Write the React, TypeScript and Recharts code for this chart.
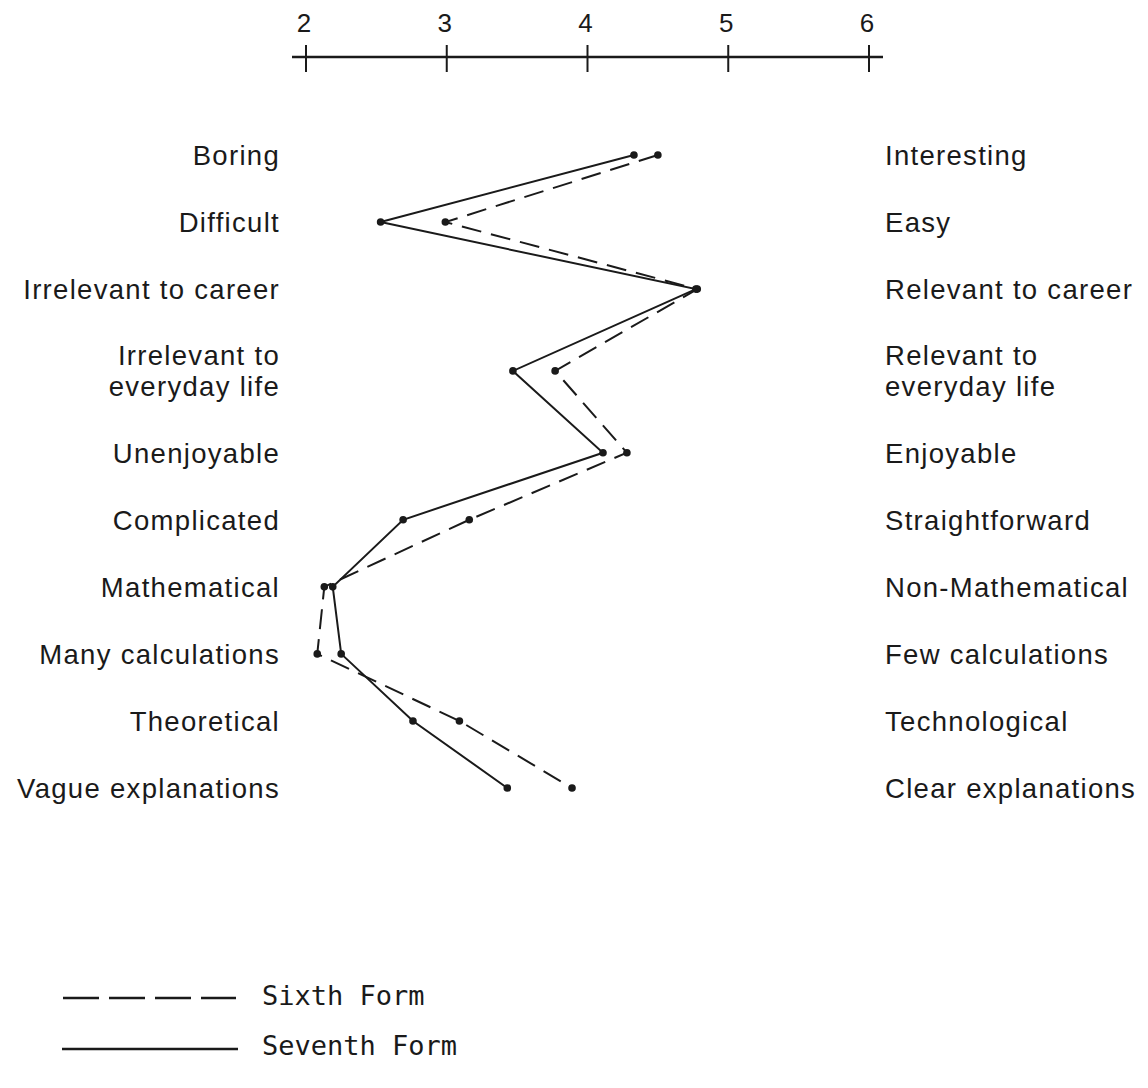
import React from 'react';
import { LineChart, Line, XAxis, YAxis, Legend } from 'recharts';

// ---- data ----
const leftLabels = [
  'Boring',
  'Difficult',
  'Irrelevant to career',
  'Irrelevant to\neveryday life',
  'Unenjoyable',
  'Complicated',
  'Mathematical',
  'Many calculations',
  'Theoretical',
  'Vague explanations',
];
const rightLabels = [
  'Interesting',
  'Easy',
  'Relevant to career',
  'Relevant to\neveryday life',
  'Enjoyable',
  'Straightforward',
  'Non-Mathematical',
  'Few  calculations',
  'Technological',
  'Clear explanations',
];
const sixthForm = [4.5, 2.99, 4.78, 3.77, 4.28, 3.16, 2.13, 2.08, 3.09, 3.89];
const seventhForm = [4.33, 2.53, 4.77, 3.47, 4.11, 2.69, 2.19, 2.25, 2.76, 3.43];
const scaleTicks = [2, 3, 4, 5, 6];
const seriesNames = ['Sixth Form', 'Seventh Form'];

// ---- layout helpers ----
const INK = '#1a1a1a';
const SANS = '"Liberation Sans", Arial, Helvetica, sans-serif';
const MONO = '"DejaVu Sans Mono", monospace';
const EXTRA = 0.22; // extra row room above & below per extra text line
const LINE_H = 31;

const lineCount = (s: string) => s.split('\n').length;
const positions: number[] = [];
{
  let acc = 0;
  leftLabels.forEach((lab, i) => {
    const extra = EXTRA * (lineCount(lab) - 1);
    positions.push(i + acc + extra);
    acc += 2 * extra;
  });
}

const data = leftLabels.map((l, i) => ({
  pos: positions[i],
  left: l,
  right: rightLabels[i],
  sixth: sixthForm[i],
  seventh: seventhForm[i],
}));

const findRow = (v: number) => {
  let best = 0;
  positions.forEach((p, i) => {
    if (Math.abs(p - v) < Math.abs(positions[best] - v)) best = i;
  });
  return best;
};

const MultiLine = ({ x, y, text, anchor }: any) => {
  const lines = String(text).split('\n');
  const start = -((lines.length - 1) * LINE_H) / 2;
  return (
    <text
      x={x}
      y={y}
      textAnchor={anchor}
      fill={INK}
      fontFamily={SANS}
      fontSize={27.5}
      letterSpacing={1.3}
    >
      {lines.map((ln, k) => (
        <tspan key={k} x={x} y={y + start + k * LINE_H} dy="0.36em">
          {ln}
        </tspan>
      ))}
    </text>
  );
};

const LeftTick = (props: any) => {
  const { x, y, payload } = props;
  return <MultiLine x={x} y={y} text={leftLabels[findRow(payload.value)]} anchor="end" />;
};
const RightTick = (props: any) => {
  const { x, y, payload } = props;
  return <MultiLine x={x} y={y} text={rightLabels[findRow(payload.value)]} anchor="start" />;
};

const ScaleTick = (props: any) => {
  const { x, y, payload } = props;
  return (
    <g>
      <line x1={x} x2={x} y1={y - 12} y2={y + 15} stroke={INK} strokeWidth={2} />
      <text x={x - 2} y={y - 25} textAnchor="middle" fill={INK} fontFamily={SANS} fontSize={26}>
        {payload.value}
      </text>
    </g>
  );
};

const Dot = (props: any) => {
  const { cx, cy, index } = props;
  if (cx == null || cy == null) return <g key={index} />;
  return <circle key={index} cx={cx} cy={cy} r={3.8} fill={INK} stroke="none" />;
};

const SIXTH_DASH = '20 10';
const LEGEND_DASH = '36 10';

const LegendContent = () => (
  <div style={{ height: 120, width: 1148, position: 'relative' }}>
    <svg width={1148} height={120} style={{ position: 'absolute', left: 0, top: 0 }}>
      <line x1={63} x2={236} y1={30} y2={30} stroke={INK} strokeWidth={2.5} strokeDasharray={LEGEND_DASH} />
      <text x={262} y={27} dy="0.36em" fill={INK} fontFamily={MONO} fontSize={27}>
        {seriesNames[0]}
      </text>
      <line x1={62} x2={238} y1={81} y2={81} stroke={INK} strokeWidth={2.5} />
      <text x={262} y={77} dy="0.36em" fill={INK} fontFamily={MONO} fontSize={27}>
        {seriesNames[1]}
      </text>
    </svg>
  </div>
);

export default function App() {
  return (
    <div style={{ position: 'absolute', left: 0, top: 0, background: '#fff' }}>
      <LineChart
        width={1148}
        height={1088}
        data={data}
        layout="vertical"
        margin={{ top: 7, right: 0, bottom: 0, left: 0 }}
      >
        <XAxis
          type="number"
          orientation="top"
          domain={[2, 6]}
          ticks={scaleTicks}
          interval={0}
          padding={{ left: 14, right: 14 }}
          height={50}
          axisLine={{ stroke: INK, strokeWidth: 2.5 }}
          tickLine={false}
          tickSize={0}
          tickMargin={0}
          tick={<ScaleTick />}
        />
        <YAxis
          yAxisId="left"
          type="number"
          dataKey="pos"
          orientation="left"
          domain={[0, 'dataMax']}
          ticks={positions}
          interval={0}
          width={292}
          padding={{ top: 98, bottom: 180 }}
          axisLine={false}
          tickLine={false}
          tickSize={0}
          tickMargin={12}
          tick={<LeftTick />}
        />
        <YAxis
          yAxisId="right"
          type="number"
          dataKey="pos"
          orientation="right"
          domain={[0, 'dataMax']}
          ticks={positions}
          interval={0}
          width={265}
          padding={{ top: 98, bottom: 180 }}
          axisLine={false}
          tickLine={false}
          tickSize={0}
          tickMargin={2}
          tick={<RightTick />}
        />
        <Legend
          verticalAlign="bottom"
          align="left"
          layout="horizontal"
          content={<LegendContent />}
        />
        <Line
          yAxisId="left"
          type="linear"
          dataKey="sixth"
          name={seriesNames[0]}
          stroke={INK}
          strokeWidth={2}
          strokeDasharray={SIXTH_DASH}
          dot={<Dot />}
          activeDot={false}
          isAnimationActive={false}
        />
        <Line
          yAxisId="left"
          type="linear"
          dataKey="seventh"
          name={seriesNames[1]}
          stroke={INK}
          strokeWidth={2}
          dot={<Dot />}
          activeDot={false}
          isAnimationActive={false}
        />
      </LineChart>
    </div>
  );
}
